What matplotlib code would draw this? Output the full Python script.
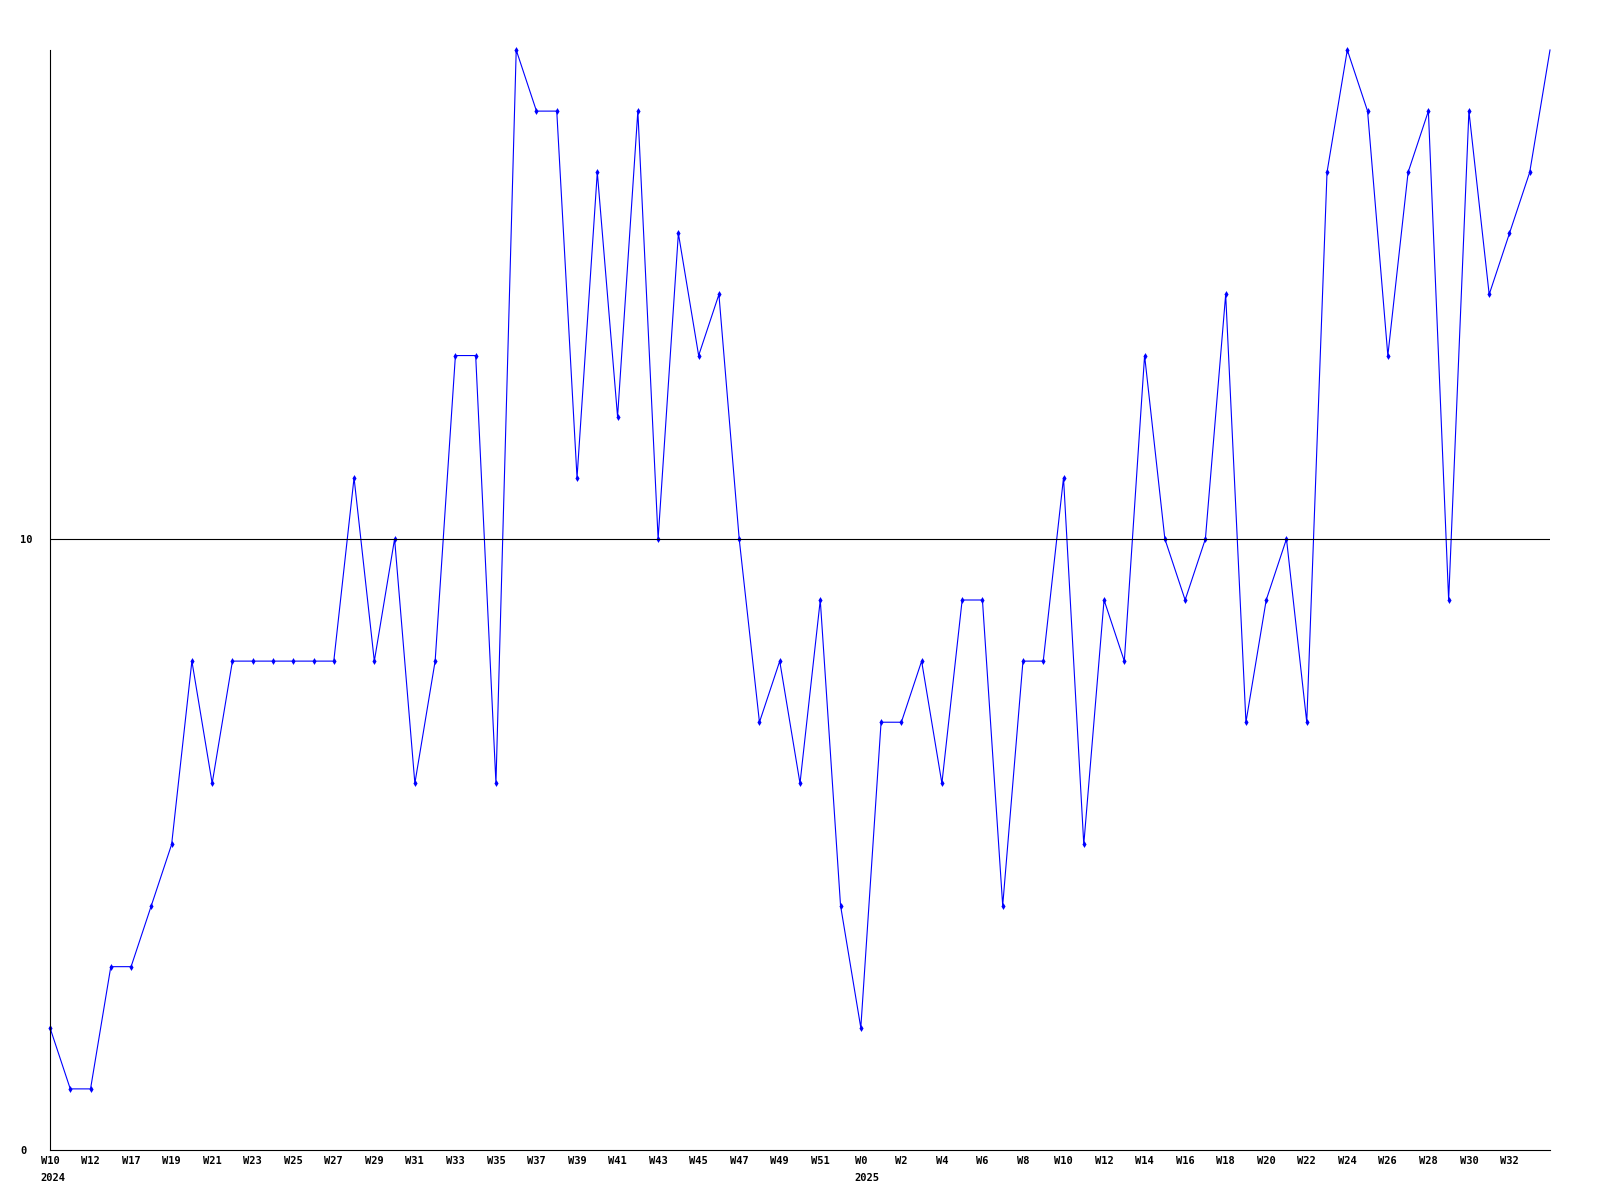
import matplotlib
matplotlib.use('Agg')
import matplotlib.pyplot as plt

# weekly values, 2024 W10 .. 2025 W34
weeks = ['W10', 'W11', 'W12', 'W16', 'W17', 'W18', 'W19', 'W20', 'W21', 'W22',
         'W23', 'W24', 'W25', 'W26', 'W27', 'W28', 'W29', 'W30', 'W31', 'W32',
         'W33', 'W34', 'W35', 'W36', 'W37', 'W38', 'W39', 'W40', 'W41', 'W42',
         'W43', 'W44', 'W45', 'W46', 'W47', 'W48', 'W49', 'W50', 'W51', 'W52',
         'W0', 'W1', 'W2', 'W3', 'W4', 'W5', 'W6', 'W7', 'W8', 'W9',
         'W10', 'W11', 'W12', 'W13', 'W14', 'W15', 'W16', 'W17', 'W18', 'W19',
         'W20', 'W21', 'W22', 'W23', 'W24', 'W25', 'W26', 'W27', 'W28', 'W29',
         'W30', 'W31', 'W32', 'W33', 'W34']
values = [2, 1, 1, 3, 3, 4, 5, 8, 6, 8,
          8, 8, 8, 8, 8, 11, 8, 10, 6, 8,
          13, 13, 6, 18, 17, 17, 11, 16, 12, 17,
          10, 15, 13, 14, 10, 7, 8, 6, 9, 4,
          2, 7, 7, 8, 6, 9, 9, 4, 8, 8,
          11, 5, 9, 8, 13, 10, 9, 10, 14, 7,
          9, 10, 7, 16, 18, 17, 13, 16, 17, 9,
          17, 14, 15, 16, 18]
years = {0: '2024', 40: '2025'}

font = {'family': 'DejaVu Sans Mono', 'weight': 'bold', 'size': 7.5}

fig = plt.figure(figsize=(16, 12), dpi=100)
ax = fig.add_axes([50 / 1600, 50 / 1200, 1500 / 1600, 1100 / 1200])

x = list(range(len(values)))
ax.plot(x, values, color='#0000ff', linewidth=0.8, marker='d', markersize=3.5,
        markeredgewidth=0, markevery=list(range(len(values) - 1)), clip_on=False)
ax.axhline(10, color='black', linewidth=0.8)

ax.set_xlim(0, len(values) - 1)
ax.set_ylim(0, 18)

for side in ['top', 'right']:
    ax.spines[side].set_visible(False)
for side in ['left', 'bottom']:
    ax.spines[side].set_linewidth(0.8)

ax.set_yticks([0, 10])
ax.set_yticklabels(['0', '10'], fontdict=font)
ax.tick_params(axis='y', length=0, pad=21.6)
for lbl in ax.get_yticklabels():
    lbl.set_horizontalalignment('left')

ticks = x[:-1:2]
ax.set_xticks(ticks)
ax.set_xticklabels([weeks[i] for i in ticks], fontdict=font)
ax.tick_params(axis='x', length=0, pad=4)

# year under the first week of each year, left aligned with the week label
for i, yr in years.items():
    off = -len(weeks[i]) * 6.7 / 2 * 0.72
    ax.annotate(yr, xy=(i, 0), xycoords=('data', 'axes fraction'),
                xytext=(off, -16.5), textcoords='offset points',
                ha='left', va='top', **font)

fig.savefig('out.png', dpi=100)
